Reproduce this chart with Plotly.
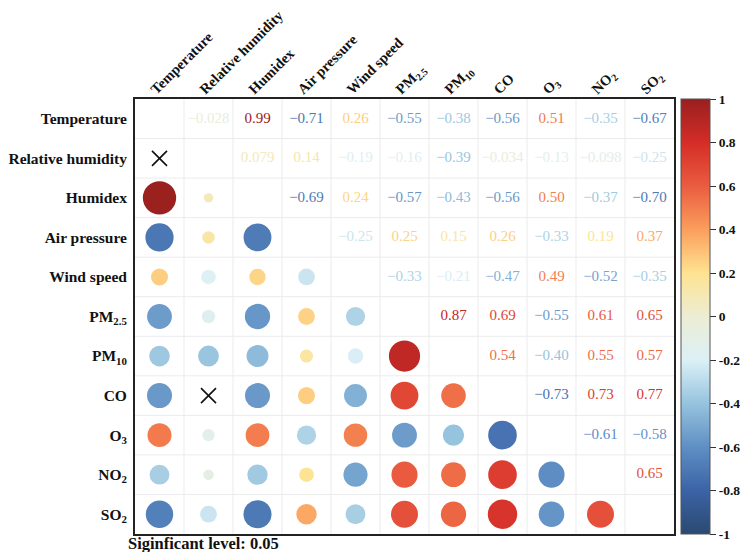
import plotly.graph_objects as go
from plotly.colors import sample_colorscale

# переменные
names = ["Temperature", "Relative humidity", "Humidex", "Air pressure", "Wind speed",
         "PM<sub>2.5</sub>", "PM<sub>10</sub>", "CO", "O<sub>3</sub>", "NO<sub>2</sub>", "SO<sub>2</sub>"]

# коэффициенты корреляции над диагональю, по строкам
r_temp = [-0.028, 0.99, -0.71, 0.26, -0.55, -0.38, -0.56, 0.51, -0.35, -0.67]
r_rh = [0.079, 0.14, -0.19, -0.16, -0.39, -0.034, -0.13, -0.098, -0.25]
r_humidex = [-0.69, 0.24, -0.57, -0.43, -0.56, 0.50, -0.37, -0.70]
r_press = [-0.25, 0.25, 0.15, 0.26, -0.33, 0.19, 0.37]
r_wind = [-0.33, -0.21, -0.47, 0.49, -0.52, -0.35]
r_pm25 = [0.87, 0.69, -0.55, 0.61, 0.65]
r_pm10 = [0.54, -0.40, 0.55, 0.57]
r_co = [-0.73, 0.73, 0.77]
r_o3 = [-0.61, -0.58]
r_no2 = [0.65]

# незначимые пары (p > 0.05)
not_sig = [(0, 1), (1, 7)]

cbar_vals = [1, 0.8, 0.6, 0.4, 0.2, 0, -0.2, -0.4, -0.6, -0.8, -1]
cbar_text = ["1", "0.8", "0.6", "0.4", "0.2", "0", "-0.2", "-0.4", "-0.6", "-0.8", "-1"]

rows = [r_temp, r_rh, r_humidex, r_press, r_wind, r_pm25, r_pm10, r_co, r_o3, r_no2]
n = len(names)

cscale = [
    [0.0, "#2b4970"],
    [0.1, "#3b63a6"],
    [0.2, "#5f8fc4"],
    [0.3, "#96c3de"],
    [0.4, "#dcf0f6"],
    [0.5, "#ecedd4"],
    [0.6, "#fee391"],
    [0.7, "#fb9e5c"],
    [0.8, "#ea5c40"],
    [0.9, "#d42d27"],
    [1.0, "#98201f"],
]


def lbl_font(size):
    return dict(family="Liberation Serif", size=size, color="#111111", weight="bold")


def fmt(v):
    s = "%.3f" % abs(v) if abs(v) < 0.1 else "%.2f" % abs(v)
    return ("−" if v < 0 else "") + s


# верхний треугольник - числа
tx, ty, tt, tc = [], [], [], []
# нижний треугольник - круги
cx, cy, cv = [], [], []
xx, xy = [], []
for i, row in enumerate(rows):
    for k, v in enumerate(row):
        j = i + 1 + k
        tx.append(j)
        ty.append(i)
        tt.append(fmt(v))
        tc.append(v)
        if (i, j) in not_sig:
            xx.append(i)
            xy.append(j)
        else:
            cx.append(i)
            cy.append(j)
            cv.append(v)

text_colors = sample_colorscale(cscale, [(v + 1) / 2 for v in tc])

fig = go.Figure()

# сетка
for k in range(1, n):
    fig.add_shape(type="line", x0=k - 0.5, x1=k - 0.5, y0=-0.5, y1=n - 0.5,
                  line=dict(color="#ebebeb", width=1), layer="below")
    fig.add_shape(type="line", y0=k - 0.5, y1=k - 0.5, x0=-0.5, x1=n - 0.5,
                  line=dict(color="#ebebeb", width=1), layer="below")

fig.add_trace(go.Scatter(
    x=cx, y=cy, mode="markers",
    marker=dict(size=[abs(v) for v in cv], sizemode="area", sizeref=2 / 33.5 ** 2,
                color=cv, colorscale=cscale, cmin=-1, cmax=1, opacity=1,
                line=dict(width=0),
                showscale=True,
                colorbar=dict(x=1.0124, xanchor="left", xpad=0, y=0.5, ypad=0, len=1.0,
                              thickness=29, outlinecolor="#555555", outlinewidth=1,
                              tickvals=cbar_vals, ticktext=cbar_text,
                              ticks="outside", ticklen=6, tickcolor="#333333",
                              tickfont=lbl_font(13.5))),
    showlegend=False, hoverinfo="skip"))

fig.add_trace(go.Scatter(
    x=xx, y=xy, mode="markers",
    marker=dict(symbol="x-thin", size=15, line=dict(width=1.6, color="#111111")),
    showlegend=False, hoverinfo="skip"))

fig.add_trace(go.Scatter(
    x=tx, y=ty, mode="text", text=tt,
    textfont=dict(family="Liberation Serif", size=15, color=text_colors),
    showlegend=False, hoverinfo="skip"))

fig.update_xaxes(range=[-0.5, n - 0.5], side="top", tickvals=list(range(n)), ticktext=names,
                 tickangle=-45, showgrid=False, zeroline=False, automargin=False,
                 ticklabelshift=-8, ticklabelstandoff=-6,
                 showline=True, mirror=True, linecolor="#222222", linewidth=2,
                 tickfont=lbl_font(14.5))
fig.update_yaxes(range=[n - 0.5, -0.5], tickvals=list(range(n)), ticktext=names,
                 showgrid=False, zeroline=False, automargin=False,
                 ticklabelstandoff=3,
                 showline=True, mirror=True, linecolor="#222222", linewidth=2,
                 tickfont=lbl_font(15.5))

fig.add_annotation(text="<b>Siginficant level: 0.05</b>", xref="paper", yref="paper",
                   x=-0.017, y=-0.022, xanchor="left", yanchor="middle", showarrow=False,
                   font=dict(family="Liberation Serif", size=16.5, color="#111111"))

fig.update_layout(width=732, height=544, plot_bgcolor="white", paper_bgcolor="white",
                  margin=dict(l=127, r=66, t=91, b=18, autoexpand=False))

fig.write_html("out.html")
